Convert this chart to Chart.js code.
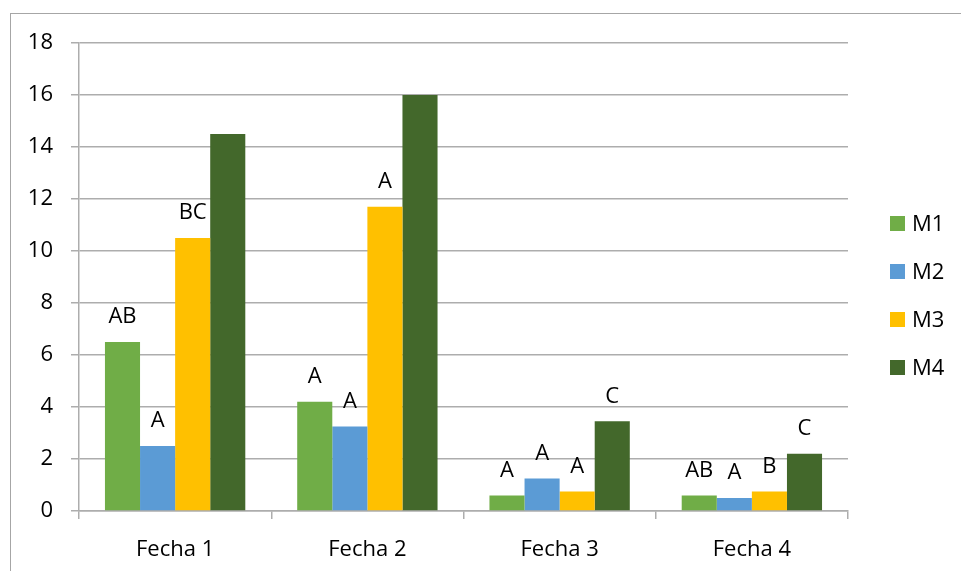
<!DOCTYPE html>
<html>
<head>
<meta charset="utf-8">
<script src="https://cdn.jsdelivr.net/npm/chart.js@4"></script>
<style>
  html, body { margin: 0; padding: 0; background: #fff; }
  #wrap { position: relative; width: 961px; height: 571px; overflow: hidden; }
  #frame { position: absolute; left: 10px; top: 13px; width: 1000px; height: 600px;
           border-left: 1.5px solid #a6a6a6; border-top: 1.5px solid #a6a6a6; }
  #chart { position: absolute; left: 0; top: 0; }
</style>
</head>
<body>
<div id="wrap">
  <div id="frame"></div>
  <canvas id="chart" width="961" height="571"></canvas>
</div>
<script>
const fechas = ['Fecha 1', 'Fecha 2', 'Fecha 3', 'Fecha 4']
const m1 = [6.5, 4.2, 0.6, 0.6]
const m2 = [2.5, 3.25, 1.25, 0.5]
const m3 = [10.5, 11.7, 0.75, 0.75]
const m4 = [14.5, 16, 3.45, 2.2]
// letras de significancia sobre cada barra
const letrasM1 = ['AB', 'A', 'A', 'AB']
const letrasM2 = ['A', 'A', 'A', 'A']
const letrasM3 = ['BC', 'A', 'A', 'B']
const letrasM4 = ['', '', 'C', 'C']
const yTicks = [0, 2, 4, 6, 8, 10, 12, 14, 16, 18]

const FONT = "'Open Sans', sans-serif"
const FSIZE = 22
const gridColor = '#ADADAD'

const letrasPlugin = {
    id: 'letras',
    afterDatasetsDraw(chart) {
        const ctx = chart.ctx
        ctx.save()
        ctx.font = FSIZE + 'px ' + FONT
        ctx.fillStyle = '#000'
        ctx.textAlign = 'center'
        ctx.textBaseline = 'middle'
        chart.data.datasets.forEach((ds, i) => {
            chart.getDatasetMeta(i).data.forEach((bar, j) => {
                const txt = ds.letras[j]
                if (txt) ctx.fillText(txt, bar.x, bar.y - 25)
            })
        })
        ctx.restore()
    }
}

const leyendaPlugin = {
    id: 'leyenda',
    afterDraw(chart) {
        const ctx = chart.ctx
        const x = chart.chartArea.right + 42
        ctx.save()
        ctx.font = FSIZE + 'px ' + FONT
        ctx.textBaseline = 'middle'
        chart.data.datasets.forEach((ds, i) => {
            const yc = 223.5 + i * 48
            ctx.fillStyle = ds.backgroundColor
            ctx.fillRect(x, yc - 7.5, 15, 15)
            ctx.fillStyle = '#000'
            ctx.fillText(ds.label, x + 22, yc + 1)
        })
        ctx.restore()
    }
}

const ctx = document.getElementById('chart').getContext('2d')
const myChart = new Chart(ctx, {
    type: 'bar',
    data: {
        labels: fechas,
        datasets: [
            { label: 'M1', data: m1, letras: letrasM1, backgroundColor: '#70AD47' },
            { label: 'M2', data: m2, letras: letrasM2, backgroundColor: '#5B9BD5' },
            { label: 'M3', data: m3, letras: letrasM3, backgroundColor: '#FFC000' },
            { label: 'M4', data: m4, letras: letrasM4, backgroundColor: '#43682B' }
        ]
    },
    options: {
        responsive: false,
        animation: false,
        devicePixelRatio: 1,
        categoryPercentage: 0.73,
        barPercentage: 1,
        layout: { padding: { left: 29, right: 113, top: 43, bottom: 8 } },
        plugins: {
            legend: { display: false },
            tooltip: { enabled: false }
        },
        scales: {
            x: {
                afterFit(scale) { scale.height = 52 },
                grid: { drawOnChartArea: false, drawTicks: true, tickLength: 8, color: gridColor, lineWidth: 1.5, offset: true },
                border: { color: gridColor, width: 1.5 },
                ticks: { color: '#000', font: { family: FONT, size: FSIZE }, padding: 18 }
            },
            y: {
                min: 0,
                max: 18,
                afterFit(scale) { scale.width = 50 },
                afterBuildTicks(scale) { scale.ticks = yTicks.map(v => ({ value: v })) },
                grid: { color: gridColor, lineWidth: 1.5, tickLength: 8 },
                border: { color: gridColor, width: 1.5 },
                ticks: { color: '#000', font: { family: FONT, size: FSIZE }, padding: 18 }
            }
        }
    },
    plugins: [letrasPlugin, leyendaPlugin]
})
</script>
</body>
</html>
